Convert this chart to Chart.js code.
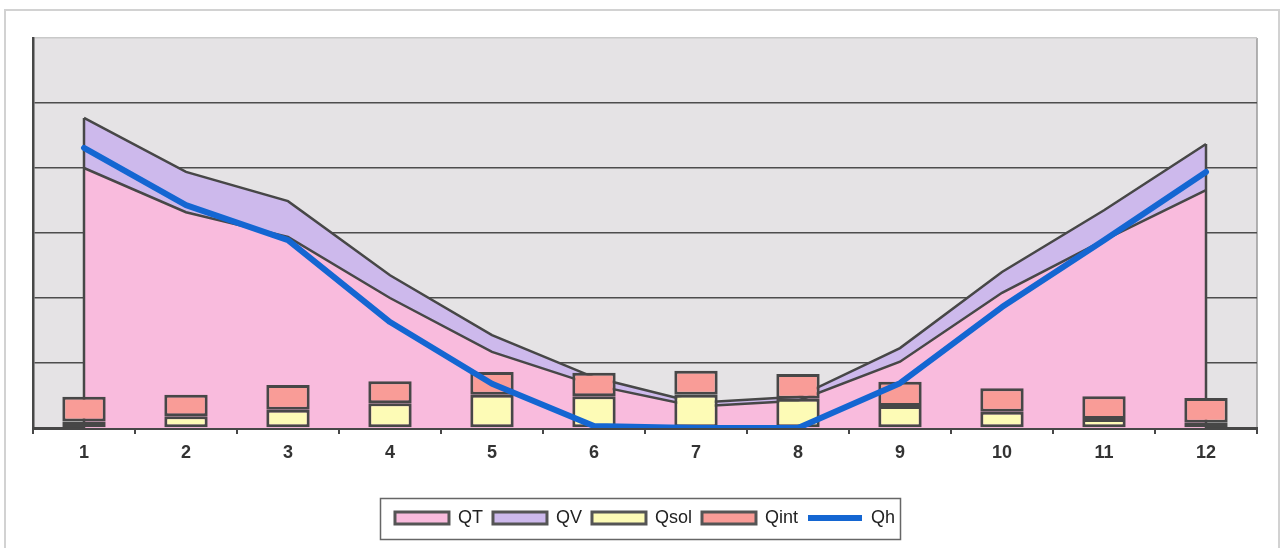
<!DOCTYPE html>
<html>
<head>
<meta charset="utf-8">
<title>QT QV Qsol Qint Qh</title>
<script src="https://cdn.jsdelivr.net/npm/chart.js@4/dist/chart.umd.min.js"></script>
<style>
  html, body { margin: 0; padding: 0; background: #ffffff; }
  #wrap { width: 1283px; height: 548px; }
</style>
</head>
<body>
<div id="wrap"><canvas id="c" width="1283" height="548"></canvas></div>
<script>
// Monthly energy balance
const months = ['1', '2', '3', '4', '5', '6', '7', '8', '9', '10', '11', '12'];
const qt   = [40.0, 33.2, 29.4, 20.0, 11.7, 6.6, 3.3, 4.2, 10.2, 20.8, 28.9, 36.6];
const qv   = [7.7, 6.2, 5.5, 3.5, 2.6, 1.2, 0.6, 0.6, 2.1, 3.2, 4.6, 7.1];
const qsol = [1.0, 1.8, 2.8, 3.8, 5.1, 4.9, 5.1, 4.5, 3.4, 2.5, 1.4, 0.8];
const qint = [3.8, 3.3, 3.8, 3.4, 3.5, 3.6, 3.7, 3.8, 3.7, 3.6, 3.5, 3.8];
const qh   = [43.1, 34.3, 28.9, 16.3, 6.8, 0.3, 0, 0, 6.9, 18.6, 28.9, 39.4];
const yTicks = [0, 10, 20, 30, 40, 50, 60];

const OUTLINE = '#474747';
const COLORS = {
  qt: '#f9bbdd',
  qv: '#cdb9ec',
  qsol: '#fdfbb6',
  qint: '#f99c97',
  qh: '#1466d2'
};

// Plot background, outer frame, area edges and legend box
const decor = {
  id: 'decor',
  beforeDraw(chart) {
    const { ctx, chartArea: a } = chart;
    ctx.save();
    ctx.fillStyle = '#ffffff';
    ctx.fillRect(0, 0, chart.width, chart.height);
    ctx.strokeStyle = '#d2d2d2';
    ctx.lineWidth = 2;
    ctx.strokeRect(5, 10, chart.width - 9, chart.height + 20);
    ctx.fillStyle = '#e5e3e5';
    ctx.fillRect(a.left, a.top, a.right - a.left, a.bottom - a.top);
    ctx.strokeStyle = '#9a9a9a';
    ctx.lineWidth = 1.5;
    ctx.beginPath();
    ctx.moveTo(a.right, a.top);
    ctx.lineTo(a.right, a.bottom);
    ctx.stroke();
    ctx.restore();
  },
  afterDatasetDraw(chart, args) {
    // vertical end edges of the stacked area
    if (args.index !== 0) return;
    const top = chart.getDatasetMeta(1).data;
    const yScale = chart.scales.y;
    const { ctx } = chart;
    ctx.save();
    ctx.strokeStyle = OUTLINE;
    ctx.lineWidth = 2.5;
    [top[0], top[top.length - 1]].forEach(p => {
      ctx.beginPath();
      ctx.moveTo(p.x, yScale.getPixelForValue(0));
      ctx.lineTo(p.x, p.y);
      ctx.stroke();
    });
    ctx.restore();
  },
  afterDraw(chart) {
    const lg = chart.legend;
    if (!lg || !lg.legendHitBoxes.length) return;
    const boxes = lg.legendHitBoxes;
    const l = boxes[0].left - 15;
    const last = boxes[boxes.length - 1];
    const r = last.left + last.width + 5;
    const t = boxes[0].top - 11;
    const b = boxes[0].top + boxes[0].height + 12;
    const { ctx } = chart;
    ctx.save();
    ctx.strokeStyle = '#666666';
    ctx.lineWidth = 1.5;
    ctx.strokeRect(Math.round(l) + 0.5, Math.round(t) + 0.5, Math.round(r - l), Math.round(b - t));
    ctx.restore();
  }
};

const chart = new Chart(document.getElementById('c'), {
  data: {
    labels: months,
    datasets: [
      {
        type: 'line', label: 'QT', data: qt, stack: 'area', order: 2,
        borderColor: OUTLINE, borderWidth: 2.5, backgroundColor: COLORS.qt,
        fill: 'origin', pointRadius: 0, tension: 0
      },
      {
        type: 'line', label: 'QV', data: qv, stack: 'area', order: 2,
        borderColor: OUTLINE, borderWidth: 2.5, backgroundColor: COLORS.qv,
        fill: '-1', pointRadius: 0, tension: 0
      },
      {
        type: 'bar', label: 'Qsol', data: qsol, stack: 'gains', order: 1,
        backgroundColor: COLORS.qsol, borderColor: OUTLINE, borderWidth: 3,
        borderSkipped: false, barPercentage: 0.85, categoryPercentage: 0.5
      },
      {
        type: 'bar', label: 'Qint', data: qint, stack: 'gains', order: 1,
        backgroundColor: COLORS.qint, borderColor: OUTLINE, borderWidth: 3,
        borderSkipped: false, barPercentage: 0.85, categoryPercentage: 0.5
      },
      {
        type: 'line', label: 'Qh', data: qh, stack: 'heat', order: 0,
        borderColor: COLORS.qh, borderWidth: 6, borderCapStyle: 'round',
        borderJoinStyle: 'round', fill: false, pointRadius: 0, tension: 0
      }
    ]
  },
  options: {
    responsive: false,
    animation: false,
    events: [],
    layout: { padding: { left: 33, right: 26, top: 38, bottom: 11 } },
    scales: {
      x: {
        type: 'category',
        offset: true,
        grid: {
          offset: true, drawOnChartArea: false, drawTicks: true,
          tickLength: 6, color: OUTLINE, lineWidth: 2
        },
        border: { color: OUTLINE, width: 3 },
        ticks: {
          color: '#333333', padding: 8,
          font: { family: 'Liberation Sans, Arial, sans-serif', size: 18, weight: 'bold' }
        },
        afterFit(scale) { scale.height = 71; }
      },
      y: {
        stacked: true,
        min: 0, max: 60,
        afterBuildTicks(scale) { scale.ticks = yTicks.map(v => ({ value: v })); },
        ticks: { display: false },
        grid: {
          drawTicks: false,
          color: c => (c.tick && c.tick.value === 60 ? '#c9c9c9' : '#4d4d4d'),
          lineWidth: 1.5
        },
        border: { color: OUTLINE, width: 2.5 },
        afterFit(scale) { scale.width = 0; }
      }
    },
    plugins: {
      tooltip: { enabled: false },
      legend: {
        position: 'bottom',
        labels: {
          usePointStyle: true,
          pointStyleWidth: 54,
          boxHeight: 12,
          padding: 10,
          color: '#222222',
          font: { family: 'Liberation Sans, Arial, sans-serif', size: 18 },
          generateLabels(ch) {
            return ch.data.datasets.map((ds, i) => {
              const isLine = ds.label === 'Qh';
              return {
                text: ds.label,
                datasetIndex: i,
                pointStyle: isLine ? 'line' : 'rect',
                fillStyle: isLine ? ds.borderColor : ds.backgroundColor,
                strokeStyle: isLine ? ds.borderColor : '#555555',
                lineWidth: isLine ? 6 : 3,
                fontColor: '#222222',
                hidden: false
              };
            });
          }
        }
      }
    }
  },
  plugins: [decor]
});
</script>
</body>
</html>
